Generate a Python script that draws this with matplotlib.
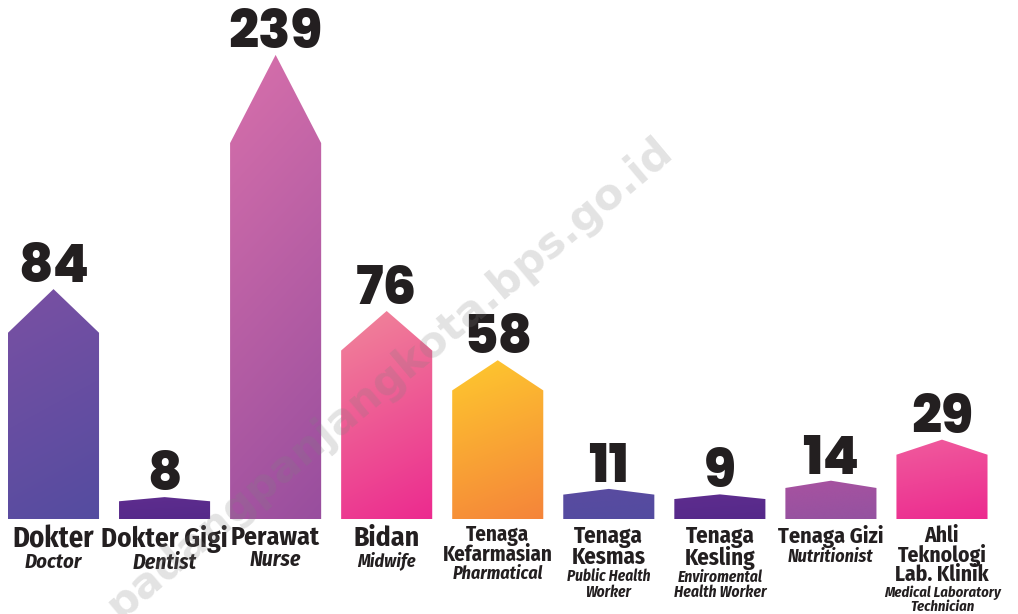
import numpy as np
import matplotlib
matplotlib.use("Agg")
import matplotlib.pyplot as plt
from matplotlib.patches import Polygon
from matplotlib.colors import to_rgb

# ---------------- data ----------------
categories_id = ["Dokter", "Dokter Gigi", "Perawat", "Bidan", "Tenaga\nKefarmasian",
                 "Tenaga\nKesmas", "Tenaga\nKesling", "Tenaga Gizi",
                 "Ahli\nTeknologi\nLab. Klinik"]
categories_en = ["Doctor", "Dentist", "Nurse", "Midwife", "Pharmatical",
                 "Public Health\nWorker", "Enviromental\nHealth Worker", "Nutritionist",
                 "Medical Laboratory\nTechnician"]
values = [84, 8, 239, 76, 58, 11, 9, 14, 29]

# ---------------- style ----------------
top_colors = ["#7a50a3", "#5e2d8e", "#d870ab", "#f0879a", "#fec92e",
              "#5a4ba0", "#5e2d8e", "#a852a0", "#f05c9d"]
bottom_colors = ["#544ca0", "#55298a", "#984e9e", "#ec2a8f", "#f5843a",
                 "#534ca0", "#55298a", "#9452a0", "#ec2a8f"]
id_sizes = [20.5, 19.5, 18.5, 20, 15, 16.5, 16.5, 16, 15.5]
en_sizes = [14.8, 15.5, 15.5, 13, 13, 11, 11.2, 13, 10.5]
TEXT = "#231f20"
LABEL_FONT = ["Fira Sans Condensed", "Roboto Condensed", "DejaVu Sans"]
NUM_FONT = ["Poppins", "Lato", "DejaVu Sans"]

W, H, DPI = 1018, 614, 100
BREAK, SQUEEZE = 90.0, 0.534      # axis compression above BREAK
PX_PER_UNIT = 2.737
BASE_PX = 95                       # baseline distance from bottom (px)
SHOULDER = 0.81
BAR_W = 0.82
X0_PX, STEP_PX = 53.5, 111.06


def fwd(v):
    v = np.asarray(v, float)
    return np.where(v <= BREAK, v, BREAK + (v - BREAK) * SQUEEZE)


def inv(u):
    u = np.asarray(u, float)
    return np.where(u <= BREAK, u, BREAK + (u - BREAK) / SQUEEZE)


fig = plt.figure(figsize=(W / DPI, H / DPI), dpi=DPI)
ax = fig.add_axes([0, 0, 1, 1])
ax.set_yscale("function", functions=(fwd, inv))
xlim = (-X0_PX / STEP_PX, (W - X0_PX) / STEP_PX)
y_lo = -BASE_PX / PX_PER_UNIT
y_hi = float(inv((H - BASE_PX) / PX_PER_UNIT))
ax.set_xlim(*xlim)
ax.set_ylim(y_lo, y_hi)
ax.axis("off")

to_axes = ax.transScale + ax.transLimits

for i, v in enumerate(values):
    x0, x1 = i - BAR_W / 2, i + BAR_W / 2
    ys = float(inv(fwd(v) * SHOULDER))
    poly = Polygon([(x0, 0), (x1, 0), (x1, ys), (i, v), (x0, ys)], closed=True,
                   facecolor="none", edgecolor="none")
    ax.add_patch(poly)
    # gradient image, diagonal (top-left light -> bottom-right dark)
    (ax0, ay0), (ax1, ay1) = to_axes.transform([(x0, 0), (x1, v)])
    n = 200
    yy, xx = np.mgrid[0:1:n * 1j, 0:1:n * 1j]   # yy: 0 top -> 1 bottom
    t = np.clip(0.82 * yy + 0.18 * xx, 0, 1)[..., None]
    c0, c1 = np.array(to_rgb(top_colors[i])), np.array(to_rgb(bottom_colors[i]))
    img = c0 * (1 - t) + c1 * t
    im = ax.imshow(img, extent=(ax0, ax1, ay0, ay1), transform=ax.transAxes,
                   aspect="auto", interpolation="bilinear", zorder=2)
    im.set_clip_path(poly)

    # value label
    ax.annotate(f"{v}", xy=(i, v), xytext=(0, 5), textcoords="offset points",
                ha="center", va="baseline", fontsize=38, fontweight=800,
                family=NUM_FONT, color=TEXT, zorder=5)

    # category labels
    t_id = ax.annotate(categories_id[i], xy=(i, 0), xytext=(0, -4.5),
                       textcoords="offset points", ha="center", va="top",
                       multialignment="center", fontsize=id_sizes[i],
                       fontweight="bold", family=LABEL_FONT, color=TEXT,
                       linespacing=0.86)
    ax.annotate(categories_en[i], xy=(0.5, 0), xycoords=t_id, xytext=(0, 0.5),
                textcoords="offset points", ha="center", va="top",
                multialignment="center", fontsize=en_sizes[i], fontweight="bold",
                fontstyle="italic", family=LABEL_FONT, color=TEXT, linespacing=1.0)

ax.set_xlim(*xlim)
ax.set_ylim(y_lo, y_hi)

# watermark
fig.text(0.383, 0.385, "padangpanjangkota.bps.go.id", rotation=40,
         rotation_mode="anchor", ha="center", va="center", fontsize=31,
         fontweight="bold", family="DejaVu Sans", color="#808080", alpha=0.22,
         zorder=10)

fig.savefig("out.png", dpi=DPI)
